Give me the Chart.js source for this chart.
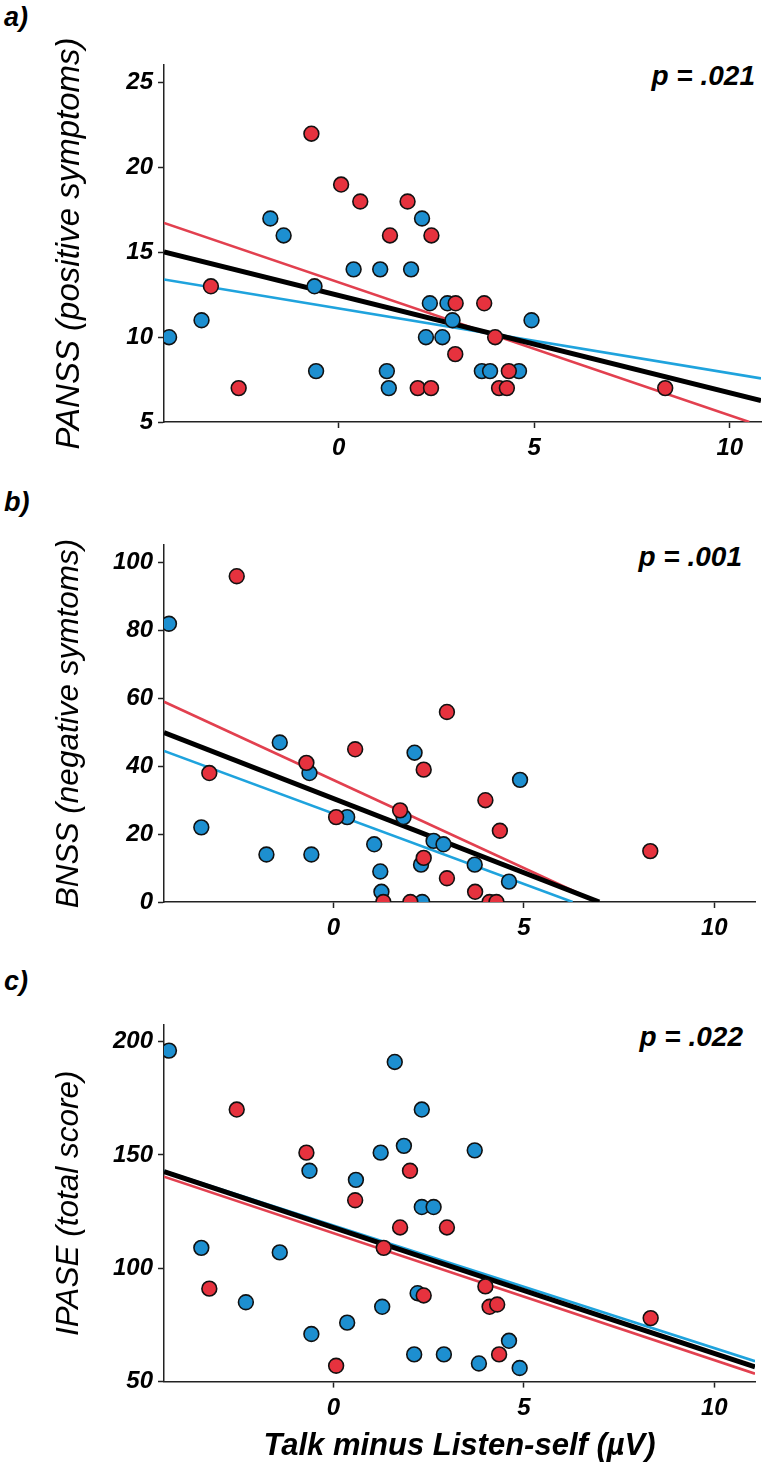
<!DOCTYPE html>
<html>
<head>
<meta charset="utf-8">
<script src="https://cdn.jsdelivr.net/npm/chart.js@4.4.0/dist/chart.umd.min.js"></script>
<style>
  html, body { margin: 0; padding: 0; background: #fff; }
  body { width: 764px; height: 1479px; position: relative; overflow: hidden; }
  canvas { position: absolute; left: 0; }
  .tag { position: absolute; font: italic bold 27px "Liberation Sans", Arial, sans-serif; line-height: 27px; color: #000; white-space: nowrap; }
  .pval { position: absolute; font: italic bold 28px "Liberation Sans", Arial, sans-serif; line-height: 28px; color: #000; white-space: nowrap; }
</style>
</head>
<body>
<div class="tag" style="left:4px;top:4px">a)</div>
<div class="tag" style="left:4px;top:489px">b)</div>
<div class="tag" style="left:4px;top:968px">c)</div>
<div class="pval" style="right:9px;top:62px">p = .021</div>
<div class="pval" style="right:22px;top:543px">p = .001</div>
<div class="pval" style="right:21px;top:1023px">p = .022</div>

<canvas id="chartA" width="770" height="462" style="top:0px"></canvas>
<canvas id="chartB" width="764" height="472" style="top:470px"></canvas>
<canvas id="chartC" width="764" height="539" style="top:940px"></canvas>

<script>
// x axis: Talk minus Listen-self (µV)
const xTicks = [0, 5, 10];

// ---- panel a: PANSS positive ----
const aBlueX = [-4.34, -3.51, -1.75, -1.41, -0.62, -0.58, 0.38, 1.06, 1.23, 1.28, 1.85, 2.13, 2.23, 2.33, 2.65, 2.78, 2.91, 3.66, 3.87, 4.61, 4.93];
const aBlueY = [10, 11, 17, 16, 13, 8, 14, 14, 8, 7, 14, 17, 10, 12, 10, 12, 11, 8, 8, 8, 11];
const aRedX = [-3.27, -2.56, -0.70, 0.06, 0.55, 1.31, 1.76, 2.02, 2.36, 2.37, 2.98, 2.99, 3.72, 4.00, 4.10, 4.30, 4.35, 8.35];
const aRedY = [13, 7, 22, 19, 18, 16, 18, 7, 7, 16, 9, 12, 12, 10, 7, 7, 8, 7];
// fitted lines, [start, end]
const aAllX = [-4.47, 10.8], aAllY = [15.03, 6.27];
const aBlueFitX = [-4.47, 10.8], aBlueFitY = [13.4, 7.57];
const aRedFitX = [-4.47, 10.5], aRedFitY = [16.74, 5];
const aTicks = [5, 10, 15, 20, 25];

// ---- panel b: BNSS negative ----
const bBlueX = [-4.32, -3.47, -1.76, -1.41, -0.63, -0.58, 0.36, 1.07, 1.23, 1.26, 1.84, 2.13, 2.30, 2.33, 2.63, 2.89, 3.71, 4.61, 4.90];
const bBlueY = [82, 22, 14, 47, 38, 14, 25, 17, 9, 3, 25, 44, 11, 0, 18, 17, 11, 6, 36];
const bRedX = [-3.26, -2.54, -0.71, 0.07, 0.57, 1.31, 1.75, 2.02, 2.37, 2.37, 2.98, 2.98, 3.72, 3.99, 4.10, 4.28, 4.37, 8.32];
const bRedY = [38, 96, 41, 25, 45, 0, 27, 0, 39, 13, 56, 7, 3, 30, 0, 0, 21, 15];
const bAllX = [-4.45, 6.98], bAllY = [49.9, 0];
const bBlueFitX = [-4.45, 6.28], bBlueFitY = [44.5, 0];
const bRedFitX = [-4.45, 6.93], bRedFitY = [59, 0];
const bTicks = [0, 20, 40, 60, 80, 100];

// ---- panel c: IPASE total ----
const cBlueX = [-4.32, -3.47, -2.30, -1.41, -0.63, -0.58, 0.36, 0.59, 1.24, 1.28, 1.61, 1.85, 2.21, 2.32, 2.32, 2.63, 2.12, 2.90, 3.71, 3.82, 4.61, 4.89];
const cBlueY = [196, 109, 85, 107, 143, 71, 76, 139, 151, 83, 191, 154, 89, 170, 127, 127, 62, 62, 152, 58, 68, 56];
const cRedX = [-3.26, -2.54, -0.71, 0.07, 0.57, 1.32, 1.75, 2.01, 2.37, 2.98, 3.99, 4.10, 4.30, 4.35, 8.33];
const cRedY = [91, 170, 151, 57, 130, 109, 118, 143, 88, 118, 92, 83, 84, 62, 78];
const cAllX = [-4.45, 11.07], cAllY = [142.6, 56.5];
const cBlueFitX = [-4.45, 11.07], cBlueFitY = [142.9, 59];
const cRedFitX = [-4.45, 11.07], cRedFitY = [140.4, 53.5];
const cTicks = [50, 100, 150, 200];

const BLUE = "#1d8fd0";
const RED = "#e6323e";
const BLUE_LINE = "#1fa3dd";
const RED_LINE = "#e2404f";
const AXIS = "#222";
const FAMILY = "'Liberation Sans', Arial, Helvetica, sans-serif";
const tickFont = { family: FAMILY, size: 24, weight: "bold", style: "italic" };

function pts(xs, ys) {
  return xs.map((x, i) => ({ x: x, y: ys[i] }));
}

function dots(xs, ys, color, order) {
  return {
    data: pts(xs, ys),
    backgroundColor: color,
    borderColor: "#111",
    borderWidth: 1.6,
    pointRadius: 7.4,
    pointHoverRadius: 7.4,
    order: order,
  };
}

function fit(xs, ys, color, width, order) {
  return {
    type: "line",
    data: pts(xs, ys),
    borderColor: color,
    borderWidth: width,
    pointRadius: 0,
    fill: false,
    showLine: true,
    order: order,
  };
}

function makePanel(id, p) {
  new Chart(document.getElementById(id), {
    type: "scatter",
    data: {
      datasets: [
        dots(p.redX, p.redY, RED, 0),
        dots(p.blueX, p.blueY, BLUE, 1),
        fit(p.allX, p.allY, "#000", 5, 2),
        fit(p.blueFitX, p.blueFitY, BLUE_LINE, 2.6, 3),
        fit(p.redFitX, p.redFitY, RED_LINE, 2.6, 4),
      ],
    },
    options: {
      responsive: false,
      animation: false,
      events: [],
      layout: { padding: { top: p.padTop, right: p.padRight, left: 0, bottom: 0 } },
      plugins: { legend: { display: false }, tooltip: { enabled: false } },
      scales: {
        x: {
          type: "linear",
          min: p.xMin,
          max: p.xMax,
          afterBuildTicks: (s) => { s.ticks = xTicks.map((v) => ({ value: v })); },
          afterFit: (s) => { s.height = p.xHeight; },
          grid: { drawOnChartArea: false, tickLength: 6, tickColor: AXIS, tickWidth: 1.5 },
          border: { color: AXIS, width: 1.5 },
          ticks: { color: "#000", font: tickFont, padding: 6, maxRotation: 0, autoSkip: false },
          title: {
            display: !!p.xTitle,
            text: p.xTitle || "",
            color: "#000",
            font: { family: FAMILY, size: 31, weight: "bold", style: "italic" },
            padding: { top: 0, bottom: 14 },
          },
        },
        y: {
          type: "linear",
          min: p.yMin,
          max: p.yMax,
          afterBuildTicks: (s) => { s.ticks = p.yTicks.map((v) => ({ value: v })); },
          afterFit: (s) => { s.width = 164; },
          grid: { drawOnChartArea: false, tickLength: 6, tickColor: AXIS, tickWidth: 1.5 },
          border: { color: AXIS, width: 1.5 },
          ticks: { color: "#000", font: tickFont, padding: 5, autoSkip: false },
          title: {
            display: true,
            text: p.yTitle,
            color: "#000",
            font: { family: FAMILY, size: p.yTitleSize, weight: "normal", style: "italic" },
            padding: { top: 50, bottom: 0 },
          },
        },
      },
    },
  });
}

makePanel("chartA", {
  blueX: aBlueX, blueY: aBlueY, redX: aRedX, redY: aRedY,
  allX: aAllX, allY: aAllY, blueFitX: aBlueFitX, blueFitY: aBlueFitY, redFitX: aRedFitX, redFitY: aRedFitY,
  xMin: -4.47, xMax: 10.8,
  yMin: 5, yMax: 26.05, yTicks: aTicks, yTitle: "PANSS (positive symptoms)", yTitleSize: 33,
  padTop: 65, padRight: 7, xHeight: 40,
});

makePanel("chartB", {
  blueX: bBlueX, blueY: bBlueY, redX: bRedX, redY: bRedY,
  allX: bAllX, allY: bAllY, blueFitX: bBlueFitX, blueFitY: bBlueFitY, redFitX: bRedFitX, redFitY: bRedFitY,
  xMin: -4.45, xMax: 11.07,
  yMin: 0, yMax: 105.2, yTicks: bTicks, yTitle: "BNSS (negative symtoms)", yTitleSize: 31.5,
  padTop: 75, padRight: 4, xHeight: 40,
});

makePanel("chartC", {
  blueX: cBlueX, blueY: cBlueY, redX: cRedX, redY: cRedY,
  allX: cAllX, allY: cAllY, blueFitX: cBlueFitX, blueFitY: cBlueFitY, redFitX: cRedFitX, redFitY: cRedFitY,
  xMin: -4.45, xMax: 11.07,
  yMin: 50, yMax: 207.3, yTicks: cTicks, yTitle: "IPASE (total score)", yTitleSize: 31.5,
  padTop: 85, padRight: 4, xHeight: 97.4, xTitle: "Talk minus Listen-self (µV)",
});
</script>
</body>
</html>
